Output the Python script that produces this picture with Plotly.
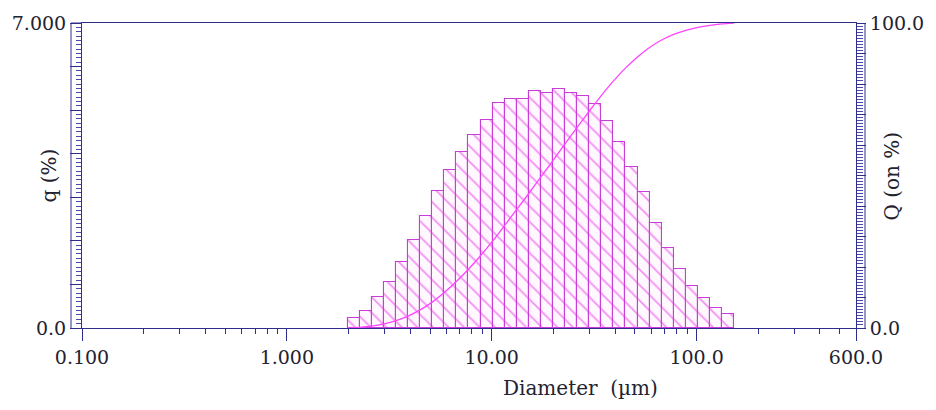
import math
import numpy as np
import plotly.graph_objects as go

# Size-class boundaries (µm), logarithmic steps
bin_edges = [1.981, 2.269, 2.599, 2.976, 3.409, 3.905, 4.472, 5.122, 5.867, 6.720,
             7.697, 8.816, 10.097, 11.565, 13.246, 15.172, 17.377, 19.904, 22.797,
             26.111, 29.907, 34.255, 39.234, 44.938, 51.471, 58.953, 67.523, 77.339,
             88.583, 101.46, 116.21, 133.10, 152.45]

# Frequency of each size class, q (%)
q_percent = [0.23, 0.39, 0.72, 1.06, 1.52, 2.02, 2.56, 3.14, 3.63, 4.04,
             4.43, 4.77, 5.17, 5.25, 5.25, 5.43, 5.39, 5.48, 5.39, 5.32,
             5.14, 4.75, 4.27, 3.70, 3.11, 2.42, 1.84, 1.35, 0.97, 0.68,
             0.45, 0.31]

# Axis ticks
x_tickvals = [0.1, 1, 10, 100, 600]
x_ticktext = ["0.100", "1.000", "10.00", "100.0", "600.0"]
q_tickvals = [0, 1, 2, 3, 4, 5, 6, 7]
q_ticktext = ["0.0", "", "", "", "", "", "", "7.000"]
Q_tickvals = [0, 10, 20, 30, 40, 50, 60, 70, 80, 90, 100]
Q_ticktext = ["0.0"] + [""] * 9 + ["100.0"]

# Cumulative undersize Q (%) at the upper boundary of each class
edges = np.array(bin_edges)
q = np.array(q_percent)
Q_cum = np.concatenate([[0.0], np.cumsum(q) / q.sum() * 100.0])

# Minor ticks: 2..9 in every decade, up to 600
minor_x = [m * 10.0 ** d for d in range(-1, 3) for m in range(2, 10) if m * 10.0 ** d < 600]

AXIS = "#2e2e8a"
MINOR = "#4848b0"
TXT = "#222230"
FONT = "DejaVu Serif"
MAG = "#e62ee6"

fig = go.Figure()

fig.add_trace(go.Bar(
    x=edges[:-1],
    y=q,
    width=np.diff(edges),
    offset=0,
    marker=dict(
        color="white",
        line=dict(color="#c83cd8", width=1.1),
        pattern=dict(shape="\\", fgcolor=MAG, bgcolor="#fff8ff", size=11, solidity=0.17),
    ),
    hoverinfo="x+y",
))

fig.add_trace(go.Scatter(
    x=edges,
    y=Q_cum,
    yaxis="y2",
    mode="lines",
    line=dict(color="#ff44ff", width=1.3, shape="spline", smoothing=0.6),
))

tickfont = dict(family=FONT, size=19, color=TXT)

fig.update_layout(
    width=936,
    height=410,
    margin=dict(l=81, r=80, t=14, b=82),
    paper_bgcolor="white",
    plot_bgcolor="white",
    showlegend=False,
    bargap=0,
    xaxis=dict(
        type="log",
        range=[-1, math.log10(600)],
        tickmode="array",
        tickvals=x_tickvals,
        ticktext=x_ticktext,
        ticks="outside",
        ticklen=12,
        tickwidth=1,
        tickcolor=AXIS,
        showline=True,
        linecolor=AXIS,
        linewidth=1,
        mirror=True,
        showgrid=False,
        zeroline=False,
        tickfont=tickfont,
        minor=dict(tickmode="array", tickvals=minor_x, ticks="outside",
                   ticklen=5, tickcolor=AXIS, showgrid=False),
    ),
    yaxis=dict(
        range=[0, 7],
        tickmode="array",
        tickvals=q_tickvals,
        ticktext=q_ticktext,
        ticks="outside",
        ticklen=11,
        tickwidth=1,
        tickcolor=AXIS,
        showline=True,
        linecolor=AXIS,
        linewidth=1,
        showgrid=False,
        zeroline=False,
        tickfont=tickfont,
        minor=dict(dtick=0.1, tick0=0, ticks="outside", ticklen=5,
                   tickcolor=MINOR, showgrid=False),
    ),
    yaxis2=dict(
        overlaying="y",
        side="right",
        range=[0, 100],
        tickmode="array",
        tickvals=Q_tickvals,
        ticktext=Q_ticktext,
        ticks="outside",
        ticklen=9,
        tickwidth=1,
        tickcolor=AXIS,
        showline=True,
        linecolor=AXIS,
        linewidth=1,
        showgrid=False,
        zeroline=False,
        tickfont=tickfont,
        minor=dict(dtick=1, tick0=0, ticks="outside", ticklen=6,
                   tickcolor=MINOR, showgrid=False),
    ),
    shapes=[
        # outer rails of the two vertical scales
        dict(type="line", xref="paper", yref="paper", xsizemode="pixel", xanchor=0,
             x0=-11, x1=-11, y0=0, y1=1, line=dict(color=AXIS, width=1)),
        dict(type="line", xref="paper", yref="paper", xsizemode="pixel", xanchor=0,
             x0=-11, x1=0, y0=1, y1=1, line=dict(color=AXIS, width=1)),
        dict(type="line", xref="paper", yref="paper", xsizemode="pixel", xanchor=1,
             x0=9, x1=9, y0=0, y1=1, line=dict(color=AXIS, width=1)),
    ],
    annotations=[
        dict(text="q (%)", xref="paper", yref="paper", x=-0.0439, y=0.5,
             textangle=-90, showarrow=False, xanchor="center", yanchor="middle",
             font=dict(family=FONT, size=20, color=TXT)),
        dict(text="Q (on %)", xref="paper", yref="paper", x=1.0465, y=0.5,
             textangle=-90, showarrow=False, xanchor="center", yanchor="middle",
             font=dict(family=FONT, size=20, color=TXT)),
        dict(text="Diameter\u00a0\u00a0(µm)", xref="paper", yref="paper", x=0.6439, y=-0.197,
             showarrow=False, xanchor="center", yanchor="middle",
             font=dict(family=FONT, size=20, color=TXT)),
    ],
)

fig.write_html("out.html")
